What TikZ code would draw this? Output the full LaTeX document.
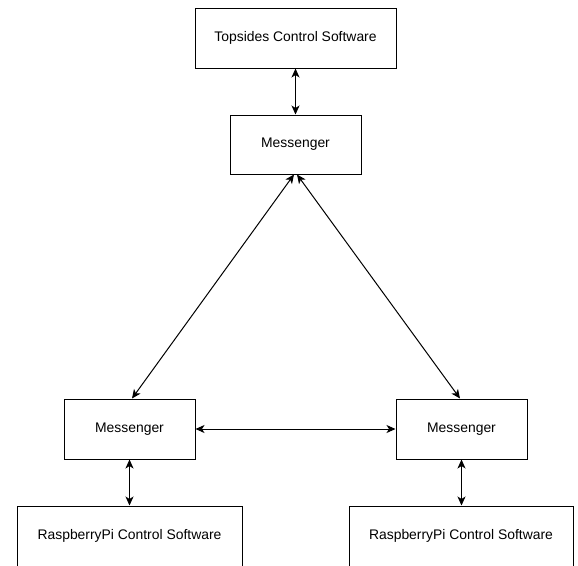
\documentclass[tikz,border=0pt]{standalone}
\usepackage{fontspec}
\setmainfont{Liberation Sans}
\usetikzlibrary{arrows.meta}
\begin{document}
\begin{tikzpicture}[x=1pt,y=-1pt,
  box/.style={draw=black,line width=1pt,fill=white,inner sep=0pt,font=\fontsize{13.9}{16}\selectfont},
  link/.style={line width=1pt,{Stealth[length=9pt,width=8pt,inset=2.5pt]}-{Stealth[length=9pt,width=8pt,inset=2.5pt]}}]
\useasboundingbox (0,0) rectangle (578,565);
\clip (0,0) rectangle (578,565);
\fill[white] (0,0) rectangle (578,565);
\node[box,minimum width=201pt,minimum height=60pt] (top) at (295.5,38) {Topsides Control Software};
\node[box,minimum width=131pt,minimum height=59pt] (mtop) at (295.5,144.5) {Messenger};
\node[box,minimum width=131pt,minimum height=60pt] (ml) at (129.5,429) {Messenger};
\node[box,minimum width=131pt,minimum height=60pt] (mr) at (461.5,429) {Messenger};
\node[box,minimum width=225pt,minimum height=60pt] (rl) at (129.5,536) {RaspberryPi Control Software};
\node[box,minimum width=224pt,minimum height=60pt] (rr) at (461,536) {RaspberryPi Control Software};
\draw[link] (top.south) -- (mtop.north);
\draw[link] ([xshift=-1.5pt]mtop.south) -- ([xshift=2.5pt]ml.north);
\draw[link] ([xshift=1.5pt]mtop.south) -- ([xshift=-1.5pt]mr.north);
\draw[link] (ml.east) -- (mr.west);
\draw[link] (ml.south) -- (rl.north -| ml.south);
\draw[link] (mr.south) -- (rr.north -| mr.south);
\end{tikzpicture}
\end{document}
